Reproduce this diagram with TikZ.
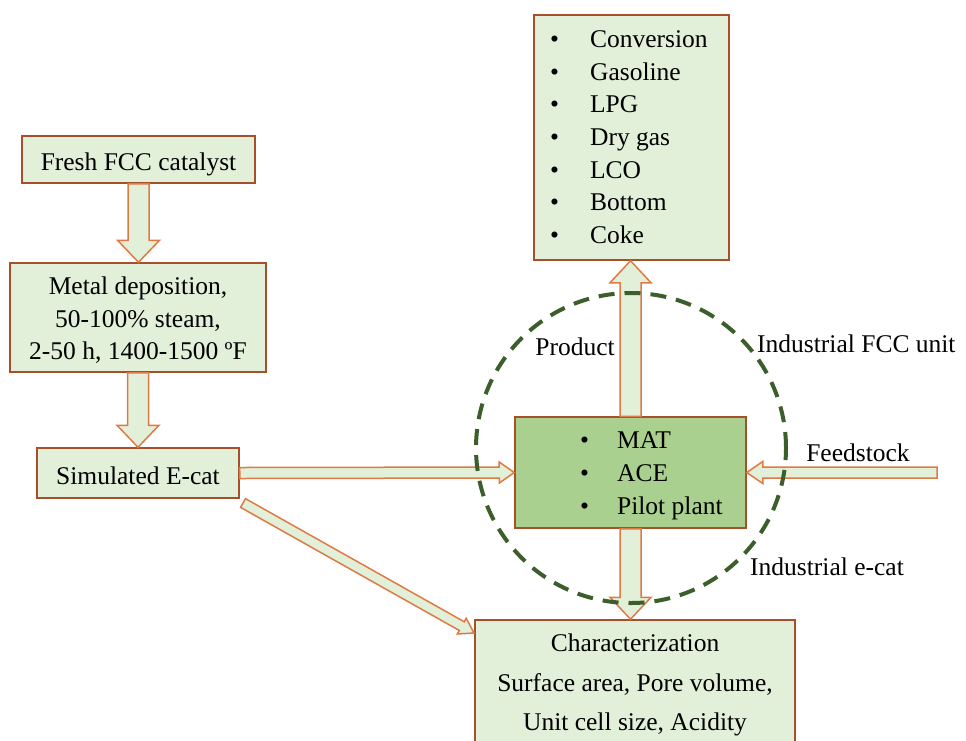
\documentclass[tikz,border=0pt]{standalone}
\usepackage{fontspec}
\setmainfont{Liberation Serif}
\usetikzlibrary{calc}
\definecolor{boxfill}{HTML}{E2EFD9}
\definecolor{matfill}{HTML}{A9D08E}
\definecolor{boxline}{HTML}{A5502A}
\definecolor{arrline}{HTML}{E07A45}
\definecolor{ringcol}{HTML}{3B5E2B}
% #1 start, #2 end, #3 shaft half width, #4 head half width, #5 head length (pt)
\newcommand{\blockarrow}[5]{%
  \draw[barrow] let \p1=(#1), \p2=(#2),
    \n1={atan2(\y2-\y1,\x2-\x1)}, \n2={veclen(\x2-\x1,\y2-\y1)} in
    [shift={(\p1)}, rotate=\n1]
    (0pt,-#3pt) -- ({\n2*1pt-#5pt},-#3pt) -- ({\n2*1pt-#5pt},-#4pt)
    -- ({\n2*1pt},0pt) -- ({\n2*1pt-#5pt},#4pt) -- ({\n2*1pt-#5pt},#3pt)
    -- (0pt,#3pt) -- cycle;}
\begin{document}
\begin{tikzpicture}[x=1pt,y=-1pt,
  box/.style={draw=boxline, fill=boxfill, line width=1.5pt, inner sep=0pt,
    font=\fontsize{25.5}{32.6}\selectfont, align=center},
  onebox/.style={box, text height=22pt, text depth=0pt},
  matbox/.style={box, fill=matfill},
  lbl/.style={inner sep=0pt, font=\fontsize{25.5}{32.6}\selectfont, align=center},
  barrow/.style={draw=arrline, fill=boxfill, line width=1.5pt, line join=miter},
  ring/.style={draw=ringcol, line width=4pt, dash pattern=on 16pt off 10pt}]
\useasboundingbox (0,0) rectangle (966,740);
\fill[white] (0,0) rectangle (966,740);

% boxes
\node[onebox, minimum width=233pt, minimum height=47pt] (fresh) at (138.5,159.5) {Fresh FCC catalyst};
\node[box, minimum width=256pt, minimum height=109pt] (metal) at (138,317.5) {};
\node[onebox, minimum width=202pt, minimum height=50pt] (sim) at (138,473) {Simulated E-cat};
\node[box, minimum width=195pt, minimum height=245pt] (top) at (631.5,137.5) {};
\node[matbox, minimum width=231pt, minimum height=111pt] (mat) at (630.5,472.5) {};
\node[box, minimum width=320pt, minimum height=140pt] (char) at (635,690) {};

% box texts
\node[lbl] (metaltext) at (138,320.5)
  {Metal deposition,\\ 50-100\% steam,\\ 2-50 h, 1400-1500 ºF};
\node[lbl, anchor=west] (toplist) at (550,139) {%
  \begin{tabular}{@{}l@{\hspace{31pt}}l@{}}
  \textbullet & Conversion\\ \textbullet & Gasoline\\ \textbullet & LPG\\
  \textbullet & Dry gas\\ \textbullet & LCO\\ \textbullet & Bottom\\ \textbullet & Coke
  \end{tabular}};
\node[lbl, anchor=west] (matlist) at (580,475) {%
  \begin{tabular}{@{}l@{\hspace{28pt}}l@{}}
  \textbullet & MAT\\ \textbullet & ACE\\ \textbullet & Pilot plant
  \end{tabular}};
\node[lbl, font=\fontsize{25.5}{39.5}\selectfont] (chartext) at (635,685)
  {Characterization\\ Surface area, Pore volume,\\ Unit cell size, Acidity};

% labels
\node[lbl] (product) at (575,347) {Product};
\node[lbl, anchor=west] (fccunit) at (757,344) {Industrial FCC unit};
\node[lbl] (feedlbl) at (858,453) {Feedstock};
\node[lbl, anchor=west] (ecatlbl) at (750,567) {Industrial e-cat};

\coordinate (feedin) at (937,472.5);
\coordinate (diagA) at (243,503);
\coordinate (diagB) at (474,633);

% arrows
\blockarrow{fresh.south}{fresh.south |- metal.north}{10.5}{21}{22}
\blockarrow{metal.south}{metal.south |- sim.north}{10.5}{21}{22}
\blockarrow{sim.east}{mat.west}{5.5}{10.5}{15}
\blockarrow{feedin}{mat.east}{5.5}{11}{16}
\blockarrow{diagA}{diagB}{5}{9}{14}
\blockarrow{mat.north}{mat.north |- top.south}{10.5}{20.5}{22}
\blockarrow{mat.south}{mat.south |- char.north}{10.5}{20.5}{22}

% dashed ring
\draw[ring] (631,448) circle [radius=155pt];
\end{tikzpicture}
\end{document}
